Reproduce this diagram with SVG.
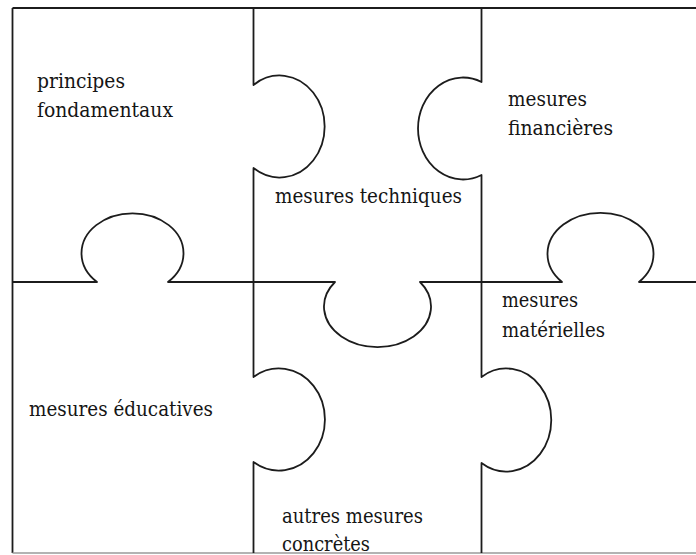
<svg xmlns="http://www.w3.org/2000/svg" width="696" height="555" viewBox="0 0 696 555">
  <style>
    .cut { fill: none; stroke: #1c1c1c; stroke-width: 1.8; stroke-linejoin: round; }
    .edge-faint { fill: none; stroke: #9a9a9a; stroke-width: 1.6; }
    .label { font-family: "DejaVu Serif", serif; font-size: 20.5px; fill: #151515; }
  </style>
  <rect x="0" y="0" width="696" height="555" fill="#ffffff"/>

  <!-- puzzle cut lines: outer frame and the shared edges with their knobs -->
  <g id="connectors">
    <path class="cut" d="M12.5,8 H696"/>
    <path class="cut" d="M12.5,8 V553"/>
    <path class="edge-faint" d="M12.5,553 H696"/>
    <!-- left vertical cut, two knobs bulging right -->
    <path class="cut" d="M253.5,8 V85 A45,51 0 1 1 253.5,168 V377 A46,51 0 1 1 253.5,462 V553"/>
    <!-- right vertical cut: upper knob bulges left, lower knob bulges right -->
    <path class="cut" d="M481.5,8 V82 A45,51 0 1 0 481.5,175 V377 A45,51.5 0 1 1 481.5,463 V553"/>
    <!-- horizontal cut: knob up, knob down, knob up -->
    <path class="cut" d="M12.5,282 H97 A51,40 0 1 1 168,282 H335 A53.5,40.5 0 1 0 420,282 H562 A53,41 0 1 1 639,282 H696"/>
  </g>

  <g id="principes-fondamentaux">
    <text class="label" x="37" y="88" textLength="88" lengthAdjust="spacingAndGlyphs">principes</text>
    <text class="label" x="37" y="117" textLength="136" lengthAdjust="spacingAndGlyphs">fondamentaux</text>
  </g>
  <g id="mesures-techniques">
    <text class="label" x="275" y="203" textLength="187" lengthAdjust="spacingAndGlyphs">mesures techniques</text>
  </g>
  <g id="mesures-financieres">
    <text class="label" x="508" y="106" textLength="79" lengthAdjust="spacingAndGlyphs">mesures</text>
    <text class="label" x="508" y="135" textLength="105" lengthAdjust="spacingAndGlyphs">financières</text>
  </g>
  <g id="mesures-educatives">
    <text class="label" x="29" y="416" textLength="184" lengthAdjust="spacingAndGlyphs">mesures éducatives</text>
  </g>
  <g id="mesures-materielles">
    <text class="label" x="502" y="307" textLength="76" lengthAdjust="spacingAndGlyphs">mesures</text>
    <text class="label" x="502" y="337" textLength="103" lengthAdjust="spacingAndGlyphs">matérielles</text>
  </g>
  <g id="autres-mesures-concretes">
    <text class="label" x="282" y="523" textLength="141" lengthAdjust="spacingAndGlyphs">autres mesures</text>
    <text class="label" x="282" y="551" textLength="88" lengthAdjust="spacingAndGlyphs">concrètes</text>
  </g>
</svg>
